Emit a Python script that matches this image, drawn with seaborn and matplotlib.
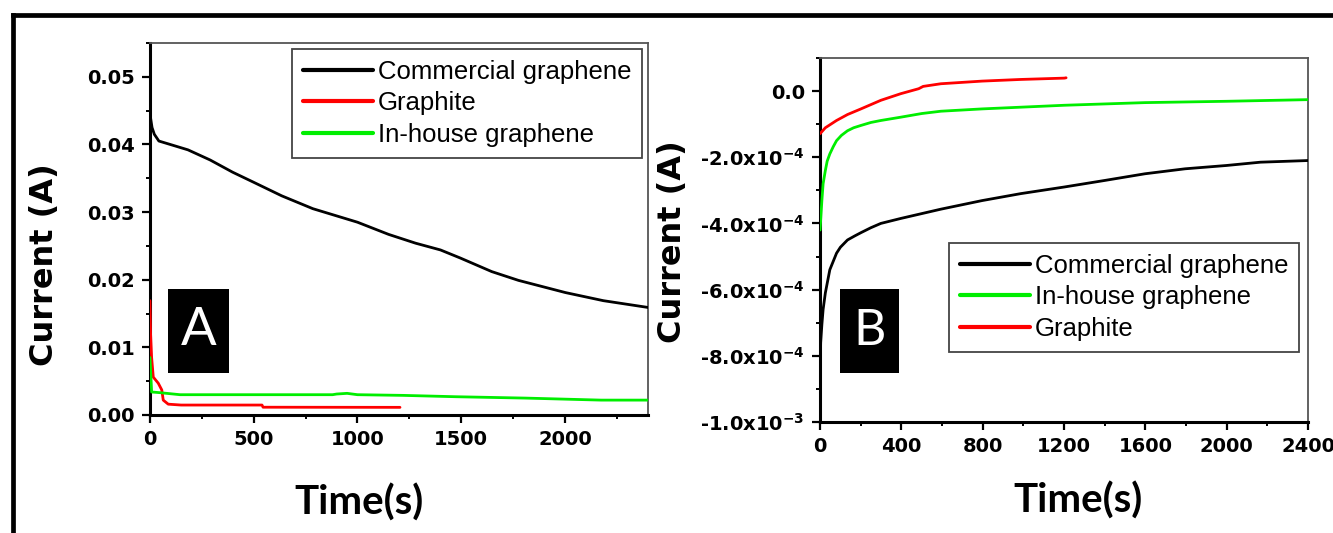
import numpy as np
import pandas as pd
import seaborn as sns
import matplotlib
import matplotlib.pyplot as plt
from matplotlib.lines import Line2D
from matplotlib.patches import Rectangle
from matplotlib.ticker import MultipleLocator

# ---------------- Panel A data (Time in s, Current in A) ----------------
a_comm_t = [0, 10, 21, 43, 97, 183, 290, 398, 500, 635, 785, 1000, 1150, 1280,
            1400, 1496, 1647, 1776, 2002, 2185, 2400]
a_comm_i = [0.0445, 0.0425, 0.0415, 0.0405, 0.0400, 0.0392, 0.0377, 0.0359, 0.0344,
            0.0324, 0.0305, 0.0285, 0.0267, 0.0254, 0.0244, 0.0232, 0.0212, 0.0199,
            0.0181, 0.0169, 0.0159]
a_graph_t = [0, 3, 8, 16, 40, 57, 64, 88, 150, 540, 545, 1205]
a_graph_i = [0.0169, 0.0120, 0.0085, 0.0056, 0.0047, 0.0037, 0.0022, 0.0016,
             0.00147, 0.00147, 0.00115, 0.00113]
a_inh_t = [0, 8, 48, 145, 880, 900, 950, 1000, 1220, 1474, 1808, 2174, 2400]
a_inh_i = [0.0085, 0.0034, 0.0033, 0.0030, 0.0030, 0.0031, 0.0032, 0.0030, 0.0029,
           0.0027, 0.0025, 0.0022, 0.0022]

# ---------------- Panel B data ----------------
b_comm_t = [0, 3, 9, 15, 26, 48, 81, 100, 135, 170, 201, 250, 299, 397, 594, 797,
            987, 1201, 1402, 1598, 1795, 1998, 2166, 2400]
b_comm_i = [-8.5e-4, -7.6e-4, -7.05e-4, -6.6e-4, -6.1e-4, -5.4e-4, -4.9e-4, -4.72e-4,
            -4.5e-4, -4.38e-4, -4.28e-4, -4.13e-4, -4.0e-4, -3.85e-4, -3.57e-4,
            -3.31e-4, -3.1e-4, -2.9e-4, -2.7e-4, -2.5e-4, -2.35e-4, -2.25e-4,
            -2.15e-4, -2.1e-4]
b_inh_t = [0, 9, 15, 26, 35, 48, 65, 81, 105, 135, 165, 201, 250, 299, 397, 500,
           594, 797, 1201, 1598, 1998, 2400]
b_inh_i = [-4.2e-4, -3.3e-4, -2.8e-4, -2.4e-4, -2.12e-4, -1.9e-4, -1.68e-4, -1.5e-4,
           -1.34e-4, -1.2e-4, -1.11e-4, -1.04e-4, -0.95e-4, -0.89e-4, -0.79e-4,
           -0.68e-4, -0.61e-4, -0.54e-4, -0.43e-4, -0.35e-4, -0.31e-4, -0.26e-4]
b_graph_t = [0, 26, 81, 135, 201, 299, 397, 485, 507, 594, 797, 987, 1201, 1210]
b_graph_i = [-1.29e-4, -1.11e-4, -0.89e-4, -0.71e-4, -0.54e-4, -0.28e-4, -0.08e-4,
             0.07e-4, 0.14e-4, 0.22e-4, 0.30e-4, 0.35e-4, 0.39e-4, 0.40e-4]

# ---------------- Labels / ticks ----------------
names_a = ["Commercial graphene", "Graphite", "In-house graphene"]
names_b = ["Commercial graphene", "In-house graphene", "Graphite"]
a_xticks = [0, 500, 1000, 1500, 2000]
a_yticks = [0.00, 0.01, 0.02, 0.03, 0.04, 0.05]
a_yticklabels = ["0.00", "0.01", "0.02", "0.03", "0.04", "0.05"]
b_xticks = [0, 400, 800, 1200, 1600, 2000, 2400]
b_yticks = [0.0, -2e-4, -4e-4, -6e-4, -8e-4, -1e-3]
b_yticklabels = ["0.0", "-2.0x10$^{-4}$", "-4.0x10$^{-4}$", "-6.0x10$^{-4}$",
                 "-8.0x10$^{-4}$", "-1.0x10$^{-3}$"]

sns.set_style("ticks")
plt.rcParams['font.family'] = ['DejaVu Sans']
plt.rcParams['mathtext.fontset'] = 'dejavusans'
plt.rcParams['mathtext.default'] = 'bf'
plt.rcParams['text.color'] = 'black'
plt.rcParams['axes.labelcolor'] = 'black'
plt.rcParams['xtick.color'] = 'black'
plt.rcParams['ytick.color'] = 'black'

fig = plt.figure(figsize=(13.33, 5.33), dpi=100)
fig.patch.set_facecolor('white')

axA = fig.add_axes([0.1125, 0.2214, 0.3736, 0.698])
axB = fig.add_axes([0.6152, 0.2083, 0.3661, 0.683])

lw = 2.0
colors = {"Commercial graphene": "#000000", "Graphite": "#ff0000",
          "In-house graphene": "#00ee00"}

dfA = {"Commercial graphene": (a_comm_t, a_comm_i),
       "Graphite": (a_graph_t, a_graph_i),
       "In-house graphene": (a_inh_t, a_inh_i)}
dfB = {"Commercial graphene": (b_comm_t, b_comm_i),
       "In-house graphene": (b_inh_t, b_inh_i),
       "Graphite": (b_graph_t, b_graph_i)}

for name in names_a:
    t, i = dfA[name]
    sns.lineplot(x=t, y=i, ax=axA, color=colors[name], linewidth=lw, label=name,
                 estimator=None, sort=False, zorder=3)
for name in names_b:
    t, i = dfB[name]
    sns.lineplot(x=t, y=i, ax=axB, color=colors[name], linewidth=lw, label=name,
                 estimator=None, sort=False, zorder=3)

legend_font = {'family': 'Liberation Sans', 'size': 18.5}
tick_font = dict(fontfamily='DejaVu Sans', fontweight='bold', fontsize=14)


def style_axes(ax, xticks, yticks, yticklabels, xminor, yminor, xlim, ylim):
    ax.set_xlim(*xlim)
    ax.set_ylim(*ylim)
    ax.set_xticks(xticks)
    ax.set_xticklabels([str(v) for v in xticks], **tick_font)
    ax.set_yticks(yticks)
    ax.set_yticklabels(yticklabels, **tick_font)
    ax.xaxis.set_minor_locator(MultipleLocator(xminor))
    ax.yaxis.set_minor_locator(MultipleLocator(yminor))
    ax.tick_params(which='major', direction='out', length=6, width=1.6, pad=5,
                   color='black', labelcolor='black', top=False, right=False)
    ax.tick_params(which='minor', direction='out', length=3, width=1.4,
                   color='black', top=False, right=False)
    for s in ['left', 'bottom']:
        ax.spines[s].set_color('black')
        ax.spines[s].set_linewidth(2.2)
    for s in ['top', 'right']:
        ax.spines[s].set_visible(True)
        ax.spines[s].set_color('#555555')
        ax.spines[s].set_linewidth(1.3)
    ax.grid(False)


style_axes(axA, a_xticks, a_yticks, a_yticklabels, 250, 0.005, (0, 2400), (0, 0.055))
style_axes(axB, b_xticks, b_yticks, b_yticklabels, 200, 1e-4, (0, 2400), (-1e-3, 1e-4))

# axis labels
for ax, xl, yl in [(axA, (0.42, -0.235), (-0.212, 0.403)),
                   (axB, (0.529, -0.215), (-0.303, 0.495))]:
    ax.set_xlabel("Time(s)", fontfamily='Lato', fontweight='bold', fontsize=29)
    ax.set_ylabel("Current (A)", fontfamily='DejaVu Sans', fontweight='bold', fontsize=23)
    ax.xaxis.set_label_coords(*xl)
    ax.yaxis.set_label_coords(*yl)
    ax.xaxis.label.set_verticalalignment('center')
    ax.yaxis.label.set_verticalalignment('center')

# legends
for ax, anchor in [(axA, (0.988, 0.984)), (axB, (0.9816, 0.4918))]:
    leg = ax.legend(loc='upper right', bbox_to_anchor=anchor, borderaxespad=0,
                    prop=legend_font, frameon=True, fancybox=False, shadow=False,
                    handlelength=2.7, handletextpad=0.2, labelspacing=0.3,
                    borderpad=0.42)
    leg.get_frame().set_edgecolor('#444444')
    leg.get_frame().set_linewidth(1.3)
    leg.get_frame().set_facecolor('white')
    leg.get_frame().set_alpha(1)
    for txt in leg.get_texts():
        txt.set_color('black')
    for h in leg.get_lines():
        h.set_linewidth(3)

# panel tags
for ax, (x0, y0, x1, y1), letter, fs in [(axA, (0.036, 0.113, 0.159, 0.339), "A", 38),
                                         (axB, (0.041, 0.135, 0.162, 0.365), "B", 36)]:
    ax.add_patch(Rectangle((x0, y0), x1 - x0, y1 - y0, transform=ax.transAxes,
                           facecolor='black', edgecolor='none', zorder=5))
    ax.text((x0 + x1) / 2, (y0 + y1) / 2, letter, transform=ax.transAxes,
            color='white', fontfamily='Lato', fontsize=fs, ha='center', va='center',
            zorder=6)

# outer frame (top and left edges visible)
fig.add_artist(Line2D([13 / 1333, 1.0], [1 - 15 / 533, 1 - 15 / 533],
                      transform=fig.transFigure, color='black', linewidth=3.4,
                      solid_capstyle='projecting'))
fig.add_artist(Line2D([13 / 1333, 13 / 1333], [0.0, 1 - 15 / 533],
                      transform=fig.transFigure, color='black', linewidth=3.4,
                      solid_capstyle='projecting'))

fig.savefig("out.png", dpi=100, facecolor='white')
